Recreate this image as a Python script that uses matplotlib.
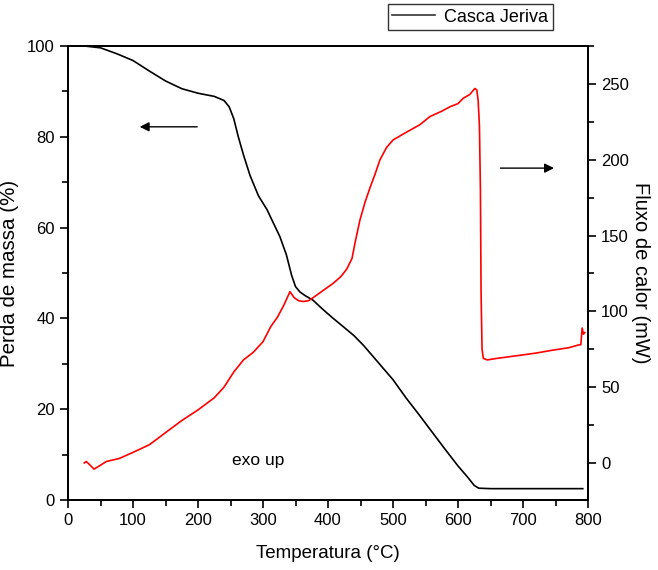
import matplotlib
matplotlib.use("Agg")
import matplotlib.pyplot as plt
from matplotlib.ticker import MultipleLocator

plt.rcParams['font.family'] = ['Liberation Sans', 'DejaVu Sans']

# TG data (left axis)
temp_tg = [25, 50, 75, 100, 125, 150, 175, 200, 225, 240, 248, 255, 262, 270, 280, 293,
           306, 316, 326, 336, 344, 350, 357, 365, 377, 392, 408, 425, 440, 455, 470,
           485, 500, 520, 540, 560, 580, 600, 615, 625, 632, 650, 700, 750, 792]
mass = [100, 99.6, 98.3, 96.8, 94.5, 92.3, 90.6, 89.6, 88.9, 88.0, 86.6, 84, 80, 76,
        71.5, 67, 64, 61, 58, 54, 49.5, 47, 45.8, 45, 44, 42, 40, 38, 36.2, 34, 31.5,
        29, 26.5, 22.5, 18.8, 15, 11.2, 7.5, 5, 3.2, 2.6, 2.5, 2.5, 2.5, 2.5]

# DSC data (right axis)
temp_dsc = [25, 28, 33, 40, 48, 59, 79, 100, 125, 150, 175, 200, 225, 240, 255, 270,
            285, 300, 312, 322, 332, 341.5, 348, 355, 362, 370, 377, 390, 408, 420, 429,
            437, 441.5, 449, 457, 465, 472, 480, 490, 500, 520, 541, 557, 575, 588, 600,
            608, 618, 626, 629, 631, 633, 634.5, 635.5, 637, 639, 645, 660, 695, 720, 747,
            770, 787, 789, 791, 793, 795]
heat_flow = [0, 1, -1, -4, -2, 1, 3, 7, 12, 20, 28, 35, 43, 50, 60, 68,
             73, 80, 90, 96, 104, 113, 109, 107, 106.5, 107, 109, 113, 118.5, 123, 128,
             135, 145, 160, 172, 182, 190, 200, 208, 213, 218, 223, 228.5, 232, 235, 237,
             240.5, 243, 247, 246, 239, 222, 180, 112, 75, 69, 68, 69, 71, 72.5, 74.5,
             76, 78, 78, 89, 85, 86]

fig = plt.figure(figsize=(6.58, 5.70), dpi=100)
ax = fig.add_axes([68/658, 70/570, 520/658, 454/570])
ax2 = ax.twinx()

l1, = ax.plot(temp_tg, mass, color='black', lw=1.2, label='Casca Jeriva')
ax2.plot(temp_dsc, heat_flow, color='red', lw=1.2)

ax.set_xlim(0, 800)
ax.set_ylim(0, 100)
ax2.set_ylim(-24.4, 275)

ax.xaxis.set_major_locator(MultipleLocator(100))
ax.xaxis.set_minor_locator(MultipleLocator(50))
ax.yaxis.set_major_locator(MultipleLocator(20))
ax.yaxis.set_minor_locator(MultipleLocator(10))
ax2.yaxis.set_major_locator(MultipleLocator(50))
ax2.yaxis.set_minor_locator(MultipleLocator(25))

for a in (ax, ax2):
    a.tick_params(which='major', direction='out', length=6, width=1.2, labelsize=12)
    a.tick_params(which='minor', direction='out', length=4, width=1.2)
    for s in a.spines.values():
        s.set_linewidth(1.3)
ax.tick_params(which='both', top=False, right=False)

ax.set_xlabel('Temperatura (°C)', fontsize=13.5, labelpad=12)
ax.set_ylabel('Perda de massa (%)', fontsize=14.8, labelpad=6)
ax2.set_ylabel('Fluxo de calor (mW)', fontsize=14.5, rotation=270, labelpad=15)

ax.annotate('', xy=(106, 82.2), xytext=(203, 82.2),
            arrowprops=dict(arrowstyle='-|>', color='black', lw=1.0, mutation_scale=14))
ax.annotate('', xy=(752, 73.1), xytext=(661, 73.1),
            arrowprops=dict(arrowstyle='-|>', color='black', lw=1.0, mutation_scale=14))
ax.text(292, 8.8, 'exo up', fontsize=12.5, ha='center', va='center')

leg = fig.legend(handles=[l1], loc='upper right', bbox_to_anchor=(553/658, 1 - 4/570),
                 fontsize=13, frameon=True, fancybox=False, borderpad=0.25,
                 handlelength=2.4, handletextpad=0.5, borderaxespad=0)
leg.get_frame().set_edgecolor('black')
leg.get_frame().set_linewidth(1.0)
leg.legend_handles[0].set_color('#333333')

fig.savefig('out.png', dpi=100)
